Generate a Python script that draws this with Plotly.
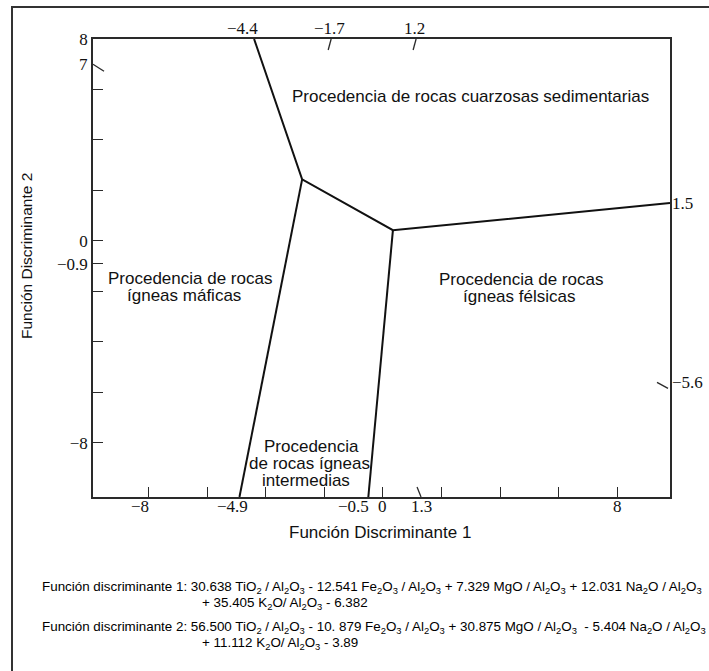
import plotly.graph_objects as go

# ---- data ----
sed_boundary_x = [-4.4, -2.76, 0.34, 9.8]
sed_boundary_y = [8.0, 2.44, 0.43, 1.5]
mafic_int_x = [-2.76, -4.9]
mafic_int_y = [2.44, -10.14]
int_felsic_x = [0.34, -0.5]
int_felsic_y = [0.43, -10.14]

x_range = [-9.9, 9.8]
y_range = [-10.14, 8.0]

x_ticks = [-8, -6, -4, -2, 0, 2, 4, 6, 8]
y_ticks = [-8, -6, -4, -2, -0.9, 0, 2, 4, 6, 8]
y_tick_text = ["−8", "", "", "", "−0.9", "0", "", "", "", "8"]

bottom_vals = [-8, -4.9, -0.5, 0, 1.3, 8]
bottom_text = ["−8", "−4.9", "−0.5", "0", "1.3", "8"]
top_vals = [-4.4, -1.7, 1.2]
top_text = ["−4.4", "−1.7", "1.2"]
right_vals = [1.5, -5.6]
right_text = ["1.5", "−5.6"]
left_extra_vals = [7]
left_extra_text = ["7"]

region_lines = [
    "Procedencia de rocas cuarzosas sedimentarias",
    "Procedencia de rocas", "ígneas máficas",
    "Procedencia de rocas", "ígneas félsicas",
    "Procedencia", "de rocas ígneas", "intermedias",
]
region_x = [2.98, -6.58, -6.78, 4.71, 4.64, -2.44, -2.5, -2.64]
region_y = [5.74, -1.47, -2.14, -1.51, -2.18, -8.12, -8.83, -9.5]

x_title = "Función Discriminante 1"
y_title = "Función Discriminante 2"

formula_lines = [
    "Función discriminante 1: 30.638 TiO<sub>2</sub> / Al<sub>2</sub>O<sub>3</sub> - 12.541 Fe<sub>2</sub>O<sub>3</sub> / Al<sub>2</sub>O<sub>3</sub> + 7.329 MgO / Al<sub>2</sub>O<sub>3</sub> + 12.031 Na<sub>2</sub>O / Al<sub>2</sub>O<sub>3</sub>",
    "+ 35.405 K<sub>2</sub>O/ Al<sub>2</sub>O<sub>3</sub> - 6.382",
    "Función discriminante 2: 56.500 TiO<sub>2</sub> / Al<sub>2</sub>O<sub>3</sub> - 10. 879 Fe<sub>2</sub>O<sub>3</sub> / Al<sub>2</sub>O<sub>3</sub> + 30.875 MgO / Al<sub>2</sub>O<sub>3</sub>  - 5.404 Na<sub>2</sub>O / Al<sub>2</sub>O<sub>3</sub>",
    "+ 11.112 K<sub>2</sub>O/ Al<sub>2</sub>O<sub>3</sub> - 3.89",
]

# ---- layout helpers ----
W, H = 709, 671
L, R, T, B = 93, 39, 39, 174
PW, PH = W - L - R, H - T - B


def px_x(p):
    return (p - L) / PW


def px_y(p):
    return 1 - (p - T) / PH


SERIF = "Liberation Serif"
SANS = "Liberation Sans"
INK = "#111111"
AX = "#2a2a2a"

fig = go.Figure()
line_style = dict(color="#111111", width=2)
for xs, ys in [(sed_boundary_x, sed_boundary_y), (mafic_int_x, mafic_int_y),
               (int_felsic_x, int_felsic_y)]:
    fig.add_trace(go.Scatter(x=xs, y=ys, mode="lines", line=line_style,
                             hoverinfo="skip", showlegend=False, cliponaxis=False))

ann = []
# region labels
for t, x, y in zip(region_lines, region_x, region_y):
    ann.append(dict(x=x, y=y, text=t, showarrow=False, xref="x", yref="y",
                    xanchor="center", yanchor="middle",
                    font=dict(family=SANS, size=17, color=INK), align="center"))

# bottom labels
bottom_shift = [-9, -7, -15, 0, 0, 0]
for v, t, s in zip(bottom_vals, bottom_text, bottom_shift):
    ann.append(dict(x=v, y=0, yref="paper", xref="x", text=t, showarrow=False,
                    xanchor="center", yanchor="middle", yshift=-9, xshift=s,
                    font=dict(family=SERIF, size=17, color=INK)))
# top labels
top_shift = [-12, -4, -4]
for v, t, s in zip(top_vals, top_text, top_shift):
    ann.append(dict(x=v, y=1, yref="paper", xref="x", text=t, showarrow=False,
                    xanchor="center", yanchor="middle", yshift=11, xshift=s,
                    font=dict(family=SERIF, size=17, color=INK)))
# right labels
for v, t in zip(right_vals, right_text):
    ann.append(dict(x=1, y=v, xref="paper", yref="y", text=t, showarrow=False,
                    xanchor="left", yanchor="middle", xshift=0,
                    font=dict(family=SERIF, size=17, color=INK)))
# left extra
for v, t in zip(left_extra_vals, left_extra_text):
    ann.append(dict(x=0, y=v, xref="paper", yref="y", text=t, showarrow=False,
                    xanchor="right", yanchor="middle", xshift=-3, yshift=0,
                    font=dict(family=SERIF, size=17, color=INK)))

# axis titles
ann.append(dict(x=px_x(380), y=px_y(532), xref="paper", yref="paper", text=x_title,
                showarrow=False, xanchor="center", yanchor="middle",
                font=dict(family=SANS, size=17, color=INK)))
ann.append(dict(x=px_x(27), y=px_y(256), xref="paper", yref="paper", text=y_title,
                showarrow=False, textangle=-90, xanchor="center", yanchor="middle",
                font=dict(family=SANS, size=15.5, color=INK)))

# formulas
formula_pos = [(40, 587), (200, 603), (40, 627), (200, 643)]
for t, (fx, fy) in zip(formula_lines, formula_pos):
    ann.append(dict(x=px_x(fx), y=px_y(fy), xref="paper", yref="paper", text=t,
                    showarrow=False, xanchor="left", yanchor="middle",
                    font=dict(family=SANS, size=13.4, color="#000000")))

shapes = []
# outer frame (left and top edges visible)
shapes.append(dict(type="rect", xref="paper", yref="paper",
                   x0=px_x(12), x1=px_x(740), y0=px_y(700), y1=px_y(7),
                   line=dict(color="#333333", width=2)))
tick_line = dict(color=AX, width=1.3)
# slanted ticks on top axis
for v in top_vals[1:]:
    shapes.append(dict(type="line", xref="x", yref="paper", xsizemode="pixel",
                       ysizemode="pixel", xanchor=v, yanchor=1, x0=-2, x1=-5,
                       y0=0, y1=-11, line=tick_line))
# slanted tick at 1.3 on bottom
shapes.append(dict(type="line", xref="x", yref="paper", xsizemode="pixel",
                   ysizemode="pixel", xanchor=bottom_vals[4], yanchor=0,
                   x0=0, x1=-4, y0=0, y1=10, line=tick_line))
# slanted tick at 7 on left
shapes.append(dict(type="line", xref="paper", yref="y", xsizemode="pixel",
                   ysizemode="pixel", xanchor=0, yanchor=left_extra_vals[0],
                   x0=0, x1=11, y0=0, y1=-7, line=tick_line))
# slanted tick at -5.6 on right
shapes.append(dict(type="line", xref="paper", yref="y", xsizemode="pixel",
                   ysizemode="pixel", xanchor=1, yanchor=right_vals[1],
                   x0=-2, x1=-13, y0=-6, y1=0, line=tick_line))

axis_common = dict(showgrid=False, zeroline=False, showline=True, linecolor=AX,
                   linewidth=1.5, mirror=True, ticks="inside", ticklen=10,
                   tickcolor=AX, tickwidth=1.3,
                   tickfont=dict(family=SERIF, size=17, color=INK))

fig.update_layout(
    width=W, height=H,
    margin=dict(l=L, r=R, t=T, b=B, pad=0),
    paper_bgcolor="white", plot_bgcolor="white",
    xaxis=dict(range=x_range, tickmode="array", tickvals=x_ticks,
               showticklabels=False, **axis_common),
    yaxis=dict(range=y_range, tickmode="array", tickvals=y_ticks,
               ticktext=y_tick_text, **axis_common),
    annotations=ann, shapes=shapes, showlegend=False,
)

fig.write_html("out.html", config={"displayModeBar": False},
               post_script="document.body.style.margin='0';")
